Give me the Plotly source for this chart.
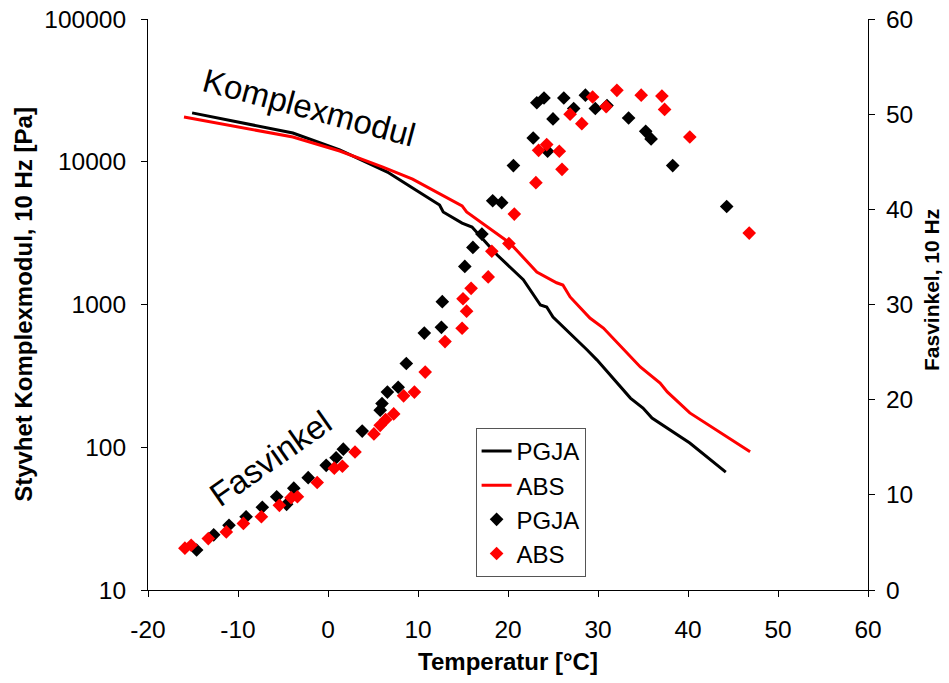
import plotly.graph_objects as go

# Complex modulus (Pa) versus temperature (°C)
temp_mod_pgja = [-15.1, -3.9, 1.3, 6.6, 9.4, 12.4, 12.8, 14.9, 16.0, 18.8, 21.7,
                 23.6, 24.3, 25.0, 28.8, 29.9, 33.6, 35.0, 36.0, 40.2, 44.2]
mod_pgja = [22000, 15900, 12100, 8470, 6550, 4980, 4450, 3720, 3490, 2220, 1490,
            992, 960, 817, 480, 408, 221, 188, 160, 107, 67]

temp_mod_abs = [-16.0, -3.9, 1.3, 6.1, 9.4, 14.9, 15.4, 20.2, 23.2, 25.4, 26.1,
                26.9, 29.1, 30.6, 34.7, 36.9, 37.7, 40.2, 46.9]
mod_abs = [20600, 14900, 11900, 9180, 7560, 4900, 4450, 2700, 1690, 1420, 1370,
           1130, 804, 684, 365, 282, 244, 174, 93]

# Phase angle (degrees) versus temperature (°C)
temp_ph_pgja = [-14.6, -12.7, -11.0, -9.1, -7.3, -5.7, -4.6, -3.8, -2.2, -0.2, 0.9,
                1.7, 3.8, 5.8, 6.0, 6.6, 7.8, 8.7, 10.7, 12.6, 12.7, 15.2, 16.1,
                17.1, 18.3, 19.3, 20.6, 22.8, 24.4, 25.0, 23.2, 24.0, 26.2, 27.3,
                28.6, 29.7, 31.0, 33.4, 35.3, 35.9, 38.3, 44.3]
ph_pgja = [4.2, 5.8, 6.8, 7.7, 8.7, 9.8, 9.0, 10.7, 11.8, 13.1, 13.9,
           14.8, 16.7, 18.9, 19.6, 20.8, 21.3, 23.8, 27.0, 27.6, 30.3, 34.0, 36.0,
           37.4, 40.9, 40.7, 44.6, 47.5, 46.1, 49.5, 51.2, 51.7, 51.7, 50.6,
           52.0, 50.6, 50.9, 49.6, 48.2, 47.4, 44.6, 40.3]

temp_ph_abs = [-15.9, -15.2, -13.3, -11.3, -9.4, -7.4, -5.4, -4.1, -3.4, -1.2, 0.7,
               1.6, 3.0, 5.1, 5.8, 6.4, 7.3, 8.4, 9.6, 10.8, 13.0, 14.9, 15.0,
               15.4, 15.9, 17.8, 18.2, 20.1, 20.7, 23.1, 23.4, 24.3, 25.7, 26.0,
               26.9, 28.2, 29.4, 30.9, 32.1, 34.8, 37.1, 37.4, 40.2, 46.8]
ph_abs = [4.4, 4.7, 5.4, 6.1, 7.0, 7.7, 8.9, 9.7, 9.8, 11.3, 12.8,
          13.0, 14.5, 16.4, 17.3, 17.9, 18.5, 20.4, 20.8, 22.9, 26.1, 27.5, 30.6,
          29.3, 31.7, 32.9, 35.6, 36.4, 39.5, 42.8, 46.2, 46.8, 46.1, 44.2,
          50.0, 49.0, 51.8, 50.8, 52.5, 52.0, 51.9, 50.5, 47.6, 37.5]

# Axis ticks
x_ticks = [-20, -10, 0, 10, 20, 30, 40, 50, 60]
x_ticktext = ["-20", "-10", "0", "10", "20", "30", "40", "50", "60"]
mod_ticks = [10, 100, 1000, 10000, 100000]
mod_ticktext = ["10", "100", "1000", "10000", "100000"]
ph_ticks = [0, 10, 20, 30, 40, 50, 60]

FONT = "Liberation Sans, Arial, sans-serif"
TICK_SIZE = 24.5
TITLE_SIZE = 24

fig = go.Figure()
fig.add_trace(go.Scatter(x=temp_mod_pgja, y=mod_pgja, mode="lines", name="PGJA",
                         line=dict(color="black", width=3)))
fig.add_trace(go.Scatter(x=temp_mod_abs, y=mod_abs, mode="lines", name="ABS",
                         line=dict(color="#ff0000", width=3)))
fig.add_trace(go.Scatter(x=temp_ph_pgja, y=ph_pgja, mode="markers", name="PGJA",
                         yaxis="y2",
                         marker=dict(symbol="diamond", size=10.5, color="black")))
fig.add_trace(go.Scatter(x=temp_ph_abs, y=ph_abs, mode="markers", name="ABS",
                         yaxis="y2",
                         marker=dict(symbol="diamond", size=10.5, color="#ff0000")))

axis_common = dict(showgrid=False, zeroline=False, showline=True,
                   linecolor="black", linewidth=1, ticks="outside", ticklen=6,
                   tickcolor="black", automargin=False,
                   tickfont=dict(family=FONT, size=TICK_SIZE))

fig.update_layout(
    width=949, height=683,
    margin=dict(l=148, r=81, t=19, b=93),
    paper_bgcolor="white", plot_bgcolor="white",
    font=dict(family=FONT, size=TICK_SIZE, color="black"),
    showlegend=True,
    legend=dict(x=0.455, y=0.284, xanchor="left", yanchor="top",
                bgcolor="white", bordercolor="#555555", borderwidth=1,
                font=dict(family=FONT, size=24), tracegroupgap=0),
    xaxis=dict(range=[-20, 60], tickvals=x_ticks, ticktext=x_ticktext,
               ticklabelstandoff=12,
               title=dict(text="<b>Temperatur [°C]</b>", standoff=10,
                          font=dict(family=FONT, size=TITLE_SIZE)),
               **axis_common),
    yaxis=dict(type="log", range=[1, 5], tickvals=mod_ticks,
               ticktext=mod_ticktext, ticklabelstandoff=10,
               title=dict(text="<b>Styvhet Komplexmodul, 10 Hz [Pa]</b>",
                          standoff=4, font=dict(family=FONT, size=TITLE_SIZE)),
               **axis_common),
    yaxis2=dict(range=[0, 60], tickvals=ph_ticks, overlaying="y", side="right",
                ticklabelstandoff=6, **axis_common),
)

# Right-hand axis title, set a little above the axis midpoint
fig.add_annotation(x=1.106, y=0.525, xref="paper", yref="paper",
                   text="<b>Fasvinkel, 10 Hz</b>", showarrow=False,
                   textangle=-90, font=dict(family=FONT, size=21, color="black"))

# Curve labels (log axis annotations use log10 units)
fig.add_annotation(x=-2.1, y=4.377, xref="x", yref="y", text="Komplexmodul",
                   showarrow=False, textangle=15,
                   font=dict(family=FONT, size=33, color="black"))
fig.add_annotation(x=-6.4, y=13.8, xref="x", yref="y2", text="Fasvinkel",
                   showarrow=False, textangle=-35,
                   font=dict(family=FONT, size=33, color="black"))

fig.write_html("out.html")
